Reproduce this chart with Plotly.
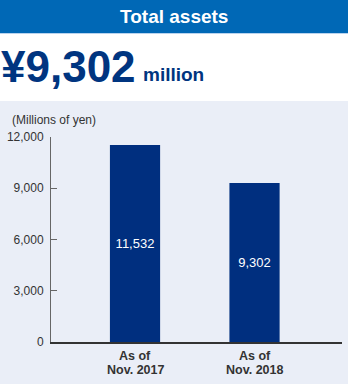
import plotly.graph_objects as go

# Total assets, millions of yen
periods = ["Nov. 2017", "Nov. 2018"]
period_prefix = "As of"
total_assets = [11532, 9302]
y_ticks = [0, 3000, 6000, 9000, 12000]
y_tick_labels = ["0", "3,000", "6,000", "9,000", "12,000"]

W, H = 348, 384
M_L, M_R, M_T, M_B = 51, 6, 137, 42
PW, PH = W - M_L - M_R, H - M_T - M_B

NAVY = "#002f7f"
HEADER = "#0068b6"
PANEL = "#eaeef7"
FONT = "Liberation Sans, Arial, sans-serif"


def px(x):
    return (x - M_L) / PW


def py(y):
    return (H - M_B - y) / PH


fig = go.Figure(
    go.Bar(
        x=periods,
        y=total_assets,
        width=0.42,
        marker=dict(color=NAVY, line=dict(width=0)),
        text=[f"{v:,}" for v in total_assets],
        textposition="inside",
        insidetextanchor="middle",
        textangle=0,
        textfont=dict(color="white", size=13, family=FONT),
        hoverinfo="skip",
    )
)

shapes = [
    # white band with the headline figure
    dict(type="rect", xref="paper", yref="paper", x0=px(0), x1=px(W), y0=py(101), y1=py(0),
         fillcolor="white", line=dict(width=0), layer="below"),
    # blue title band
    dict(type="rect", xref="paper", yref="paper", x0=px(0), x1=px(W), y0=py(33), y1=py(0),
         fillcolor=HEADER, line=dict(width=0), layer="below"),
    dict(type="rect", xref="paper", yref="paper", x0=px(0), x1=px(W), y0=py(34), y1=py(33),
         fillcolor="#b9d3ee", line=dict(width=0), layer="below"),
]

annotations = [
    dict(text="<b>Total assets</b>", xref="paper", yref="paper", x=px(174), y=py(16.5),
         xanchor="center", yanchor="middle", showarrow=False,
         font=dict(family=FONT, size=19, color="white")),
    dict(text="<b>¥9,302</b>", xref="paper", yref="paper", x=px(-1.5), y=py(67),
         xanchor="left", yanchor="middle", showarrow=False,
         font=dict(family=FONT, size=44, color="#003580")),
    dict(text="<b>million</b>", xref="paper", yref="paper", x=px(141), y=py(74),
         xanchor="left", yanchor="middle", showarrow=False,
         font=dict(family=FONT, size=19, color="#003580")),
    dict(text="(Millions of yen)", xref="paper", yref="paper", x=px(10), y=py(120),
         xanchor="left", yanchor="middle", showarrow=False,
         font=dict(family=FONT, size=12, color="#333333")),
]

# two-line category labels under each bar, with tight line spacing
for p in periods:
    for text, y in ((period_prefix, 356), (p, 369.5)):
        annotations.append(
            dict(text=f"<b>{text}</b>", xref="x", yref="paper", x=p, y=py(y),
                 xanchor="center", yanchor="middle", showarrow=False,
                 font=dict(family=FONT, size=12.5, color="#333333"))
        )

fig.update_layout(
    width=W,
    height=H,
    margin=dict(l=M_L, r=M_R, t=M_T, b=M_B, pad=0),
    paper_bgcolor=PANEL,
    plot_bgcolor=PANEL,
    showlegend=False,
    shapes=shapes,
    annotations=annotations,
    font=dict(family=FONT, color="#333333"),
    xaxis=dict(
        type="category",
        range=[-0.703, 1.732],
        showgrid=False,
        zeroline=False,
        showline=True,
        linecolor="#333333",
        linewidth=1.5,
        ticks="",
        showticklabels=False,
        fixedrange=True,
    ),
    yaxis=dict(
        range=[0, 12000],
        tickvals=y_ticks,
        ticktext=y_tick_labels,
        showgrid=False,
        zeroline=False,
        showline=True,
        linecolor="#666666",
        linewidth=1,
        ticks="inside",
        ticklen=6,
        tickcolor="#666666",
        tickwidth=1,
        ticklabelstandoff=4,
        tickfont=dict(family=FONT, size=12, color="#333333"),
        fixedrange=True,
    ),
)

fig.write_html("out.html", config={"displayModeBar": False})
